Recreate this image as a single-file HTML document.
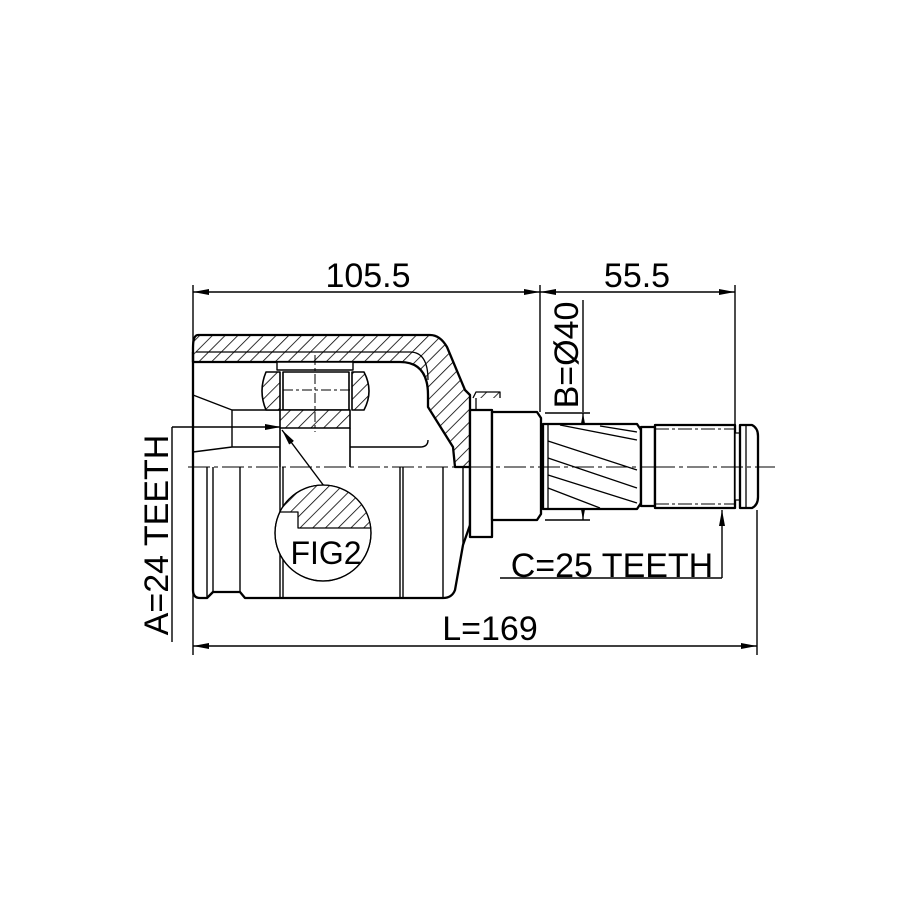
<!DOCTYPE html>
<html><head><meta charset="utf-8"><style>
html,body{margin:0;padding:0;background:#fff}
svg{display:block}
text{font-family:"Liberation Sans",Arial,sans-serif;fill:#000}
</style></head><body>
<svg width="915" height="915" viewBox="0 0 915 915" xmlns="http://www.w3.org/2000/svg">
<defs>
<pattern id="h" patternUnits="userSpaceOnUse" width="9" height="9" patternTransform="rotate(45)">
<rect width="9" height="9" fill="#fff"/><line x1="0" y1="0" x2="0" y2="9" stroke="#000" stroke-width="1.6"/>
</pattern>
<marker id="a" markerWidth="16" markerHeight="8" refX="16" refY="4" orient="auto" markerUnits="userSpaceOnUse">
<path d="M0,1 L16,4 L0,7 Z" fill="#000"/></marker>
<marker id="s" markerWidth="16" markerHeight="8" refX="0" refY="4" orient="auto" markerUnits="userSpaceOnUse">
<path d="M16,1 L0,4 L16,7 Z" fill="#000"/></marker>
<clipPath id="c"><circle cx="323" cy="533" r="48"/></clipPath>
</defs>
<g fill="none" stroke="#000" stroke-width="1.4">
<line x1="193" y1="285" x2="193" y2="655"/>
<line x1="540" y1="285" x2="540" y2="412"/>
<line x1="735" y1="285" x2="735" y2="425"/>
<line x1="757" y1="510" x2="757" y2="655"/>
<line x1="193" y1="292" x2="540" y2="292" marker-start="url(#s)" marker-end="url(#a)"/>
<line x1="540" y1="292" x2="735" y2="292" marker-start="url(#s)" marker-end="url(#a)"/>
<line x1="193" y1="646" x2="757" y2="646" marker-start="url(#s)" marker-end="url(#a)"/>
<line x1="583" y1="300" x2="583" y2="412"/>
<line x1="545" y1="413" x2="590" y2="413"/>
<line x1="545" y1="520" x2="590" y2="520"/>
<line x1="583" y1="413" x2="583" y2="520" marker-start="url(#s)" marker-end="url(#a)"/>
<line x1="172" y1="427" x2="172" y2="642"/>
<line x1="172" y1="427" x2="281" y2="427" marker-end="url(#a)"/>
<line x1="500" y1="578" x2="722" y2="578"/>
<line x1="722" y1="578" x2="722" y2="510" marker-end="url(#a)"/>
<line x1="324" y1="486" x2="282" y2="430" marker-end="url(#a)"/>
<line x1="188" y1="467" x2="775" y2="467" stroke-dasharray="22,4,4,4" stroke-width="1.1"/>
</g>
<g stroke="#000" stroke-width="2.3" stroke-linejoin="round">
<path d="M198,335 L430,335 Q440,335 447,347 L465,390 L470,395 L470,467 L455,467 L453,447 L428,407 L428,395 Q428,362 400,362 L193,362 L193,348 Q193,335 198,335 Z" fill="url(#h)"/>
<path d="M196,352 L410,352 Q428,352 428,380" fill="none" stroke-width="1.3"/>
<path d="M193,352 L193,467" fill="none"/>
<path d="M193,395 L232,410 L280,410 M232,410 L232,447 M193,452 L232,447 L280,447 M350,447 L420,447 Q428,447 428,440" fill="none" stroke-width="1.4"/>
<path d="M270,372 L280,372 L280,410 L266,410 Q258,391 266,372 Z" fill="url(#h)" stroke-width="1.6"/>
<path d="M352,372 L364,372 Q374,391 364,410 L352,410 Z" fill="url(#h)" stroke-width="1.6"/>
<rect x="283" y="372" width="66" height="38" fill="#fff" stroke-width="1.6"/>
<rect x="277" y="362" width="76" height="8" fill="#fff" stroke-width="1.4"/>
<rect x="280" y="410" width="70" height="18" fill="url(#h)" stroke-width="1.6"/>
<line x1="280" y1="428" x2="280" y2="467" stroke-width="1.6"/>
<line x1="350" y1="428" x2="350" y2="467" stroke-width="1.6"/>
<line x1="315" y1="355" x2="315" y2="432" stroke-width="1" stroke-dasharray="10,3,3,3"/>
<line x1="283" y1="390" x2="350" y2="390" stroke-width="1" stroke-dasharray="10,3,3,3"/>
<path d="M193,467 L193,590 Q193,598 200,598 L207,598 L213,592 L240,592 L245,598 L443,598 Q452,598 455,590 L463,545 L470,525 L470,467" fill="none"/>
<g stroke-width="1.4">
<line x1="207" y1="467" x2="207" y2="598"/><line x1="213" y1="467" x2="213" y2="592"/>
<line x1="240" y1="467" x2="240" y2="592"/><line x1="280" y1="467" x2="280" y2="598"/>
<line x1="283" y1="467" x2="283" y2="598"/><line x1="400" y1="467" x2="400" y2="598"/>
<line x1="403" y1="467" x2="403" y2="598"/><line x1="443" y1="467" x2="443" y2="598"/>
<line x1="463" y1="467" x2="463" y2="545"/>
</g>
<circle cx="323" cy="533" r="48" fill="#fff" stroke-width="1.3"/>
<path d="M270,485 L380,485 L380,528 L298,528 L298,512 L270,512 Z" fill="url(#h)" stroke-width="1.3" clip-path="url(#c)"/>
<circle cx="323" cy="533" r="48" fill="none" stroke-width="1.3"/>
<path d="M473,398 L476,392 L500,392 L500,398" fill="url(#h)" stroke-width="1.3"/>
<rect x="470" y="410" width="22" height="127" fill="#fff"/>
<line x1="476" y1="398" x2="476" y2="410" stroke-width="1.3"/>
<path d="M492,412 L537,412 L541,418 L541,514 L537,520 L492,520 Z" fill="#fff"/>
<path d="M543,424 L637,424 L641,430 L641,503 L637,509 L543,509 Z" fill="#fff"/>
<line x1="548" y1="424" x2="548" y2="509" stroke-width="1.3"/>
<g stroke-width="1.3" fill="none">
<path d="M560,425 L637,440 M548,441 L637,470 M548,458 L637,488 M548,488 L600,508 M600,426 L637,432 M548,475 L637,503"/>
</g>
<rect x="641" y="427" width="14" height="79" fill="#fff"/>
<rect x="655" y="425" width="80" height="83" fill="#fff"/>
<line x1="655" y1="429" x2="735" y2="429" stroke-width="1" stroke-dasharray="14,3,3,3"/>
<line x1="655" y1="504" x2="735" y2="504" stroke-width="1" stroke-dasharray="14,3,3,3"/>
<rect x="735" y="433" width="5" height="67" fill="#fff" stroke-width="1.3"/>
<path d="M740,425 L752,425 Q758,428 758,436 L758,497 Q758,505 752,508 L740,508 Z" fill="#fff"/>
<line x1="746" y1="425" x2="746" y2="508" stroke-width="1.3"/>
<line x1="653" y1="467" x2="775" y2="467" stroke-width="1.1" stroke-dasharray="22,4,4,4"/>
<line x1="470" y1="467" x2="655" y2="467" stroke-width="1.1" stroke-dasharray="22,4,4,4"/>
</g>
<text x="368" y="287" font-size="34" text-anchor="middle">105.5</text>
<text x="637" y="287" font-size="34" text-anchor="middle">55.5</text>
<text x="490" y="640" font-size="34" text-anchor="middle">L=169</text>
<text x="612" y="577" font-size="34" text-anchor="middle">C=25 TEETH</text>
<text x="326" y="564" font-size="32" text-anchor="middle">FIG2</text>
<text transform="translate(578,355) rotate(-90)" font-size="34" text-anchor="middle">B=Ø40</text>
<text transform="translate(168,535) rotate(-90)" font-size="34" text-anchor="middle">A=24 TEETH</text>
</svg>
</body></html>
